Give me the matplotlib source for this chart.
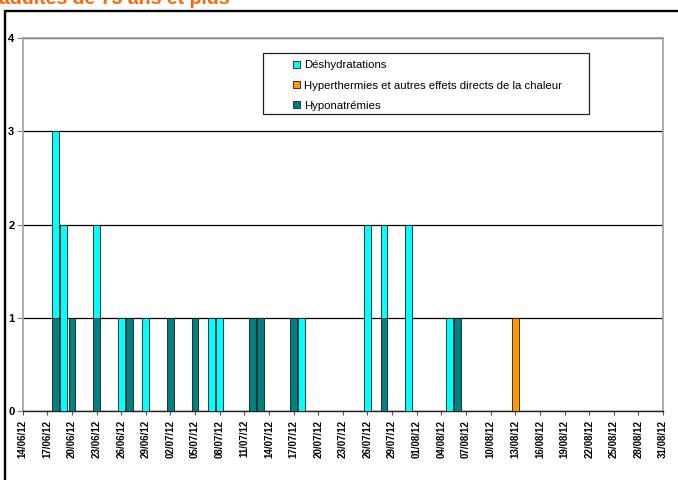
import numpy as np
import matplotlib
matplotlib.use("Agg")
import matplotlib.pyplot as plt
from matplotlib.patches import Rectangle, Patch

# data (daily counts, stacked: hyponatremies at the bottom)
start_date = np.datetime64("2012-06-14")
end_date = np.datetime64("2012-08-31")

hypo_dates = ["2012-06-18", "2012-06-20", "2012-06-23", "2012-06-27", "2012-07-02",
              "2012-07-05", "2012-07-12", "2012-07-13", "2012-07-17", "2012-07-28",
              "2012-08-06"]
hypo_vals = [1, 1, 1, 1, 1, 1, 1, 1, 1, 1, 1]

deshy_dates = ["2012-06-18", "2012-06-19", "2012-06-23", "2012-06-26", "2012-06-29",
               "2012-07-07", "2012-07-08", "2012-07-18", "2012-07-26", "2012-07-28",
               "2012-07-31", "2012-08-05"]
deshy_vals = [2, 2, 1, 1, 1, 1, 1, 1, 2, 1, 2, 1]

hyper_dates = ["2012-08-13"]
hyper_vals = [1]

series_names = ["Déshydratations",
                "Hyperthermies et autres effets directs de la chaleur",
                "Hyponatrémies"]
colors = ["#00FFFF", "#FF9900", "#008080"]

title = "adultes de 75 ans et plus"

narrow = ["Liberation Sans Narrow", "Liberation Sans", "DejaVu Sans"]


def day_index(dates):
    return np.array([(np.datetime64(d) - start_date).astype(int) for d in dates])


ndays = int((end_date - start_date).astype(int)) + 1
hypo_full = np.zeros(ndays)
hypo_full[day_index(hypo_dates)] = hypo_vals

x_hypo = day_index(hypo_dates)
x_deshy = day_index(deshy_dates)
x_hyper = day_index(hyper_dates)

W, H = 678, 480
fig = plt.figure(figsize=(6.78, 4.8), dpi=100)
ax = fig.add_axes([0.0335, 0.1431, 0.9444, 0.7777])

w = 0.82
ax.bar(x_hypo, hypo_vals, width=w, color=colors[2], edgecolor="#1a1a1a",
       linewidth=0.6, zorder=3)
ax.bar(x_deshy, deshy_vals, width=w, bottom=hypo_full[x_deshy], color=colors[0],
       edgecolor="#1a1a1a", linewidth=0.6, zorder=3)
ax.bar(x_hyper, hyper_vals, width=w, bottom=hypo_full[x_hyper], color=colors[1],
       edgecolor="#1a1a1a", linewidth=0.6, zorder=3)

ax.set_xlim(0, ndays - 1)
ax.set_ylim(0, 4)
ax.set_yticks([0, 1, 2, 3, 4])
ax.set_yticklabels(["0", "1", "2", "3", "4"], fontsize=8, fontweight="bold",
                   family=narrow)
ax.yaxis.grid(True, color="black", linewidth=0.9, zorder=1)

tick_days = np.arange(0, ndays, 3)
tick_dates = start_date + tick_days
ax.set_xticks(tick_days)
ax.set_xticklabels([str(d)[8:10] + "/" + str(d)[5:7] + "/" + str(d)[2:4] for d in tick_dates],
                   rotation=90, fontsize=7, fontweight="bold", family=narrow)

ax.tick_params(axis="x", length=3, color="#555555", pad=3)
ax.tick_params(axis="y", length=4, color="#808080", pad=2)
for side in ["top", "right", "left"]:
    ax.spines[side].set_color("#a0a0a0")
    ax.spines[side].set_linewidth(1.2)
ax.spines["bottom"].set_color("#222222")
ax.spines["bottom"].set_linewidth(1.0)

# legend: entries without frame, box drawn separately (large left indent in the original)
handles = [Patch(facecolor=c, edgecolor="#1a1a1a", linewidth=0.6) for c in colors]
leg = fig.legend(handles, series_names, loc="upper left",
                 bbox_to_anchor=(293 / W, 1 - 60.5 / H),
                 prop={"family": narrow, "size": 8.2}, frameon=False,
                 handlelength=0.6, handleheight=0.6, handletextpad=0.35,
                 labelspacing=0.88, borderpad=0, borderaxespad=0)
leg._legend_box.align = "left"
fig.patches.append(Rectangle((262.7 / W, 1 - 114 / H), (589 - 262.7) / W, (114 - 53.3) / H,
                             transform=fig.transFigure, facecolor="white",
                             edgecolor="#222222", linewidth=0.9, zorder=4))
leg.set_zorder(5)

# outer frame of the original page
fig.patches.append(Rectangle((5.3 / W, -0.1), 1.2, 1 - 10.5 / H + 0.1,
                             transform=fig.transFigure, fill=False,
                             edgecolor="black", linewidth=1.7))

fig.text(-1 / W, 1 - 4.3 / H, title, color="#FF6600", fontsize=14,
         fontweight="bold", family=["Liberation Sans", "DejaVu Sans"],
         ha="left", va="baseline")

fig.savefig("out.png", dpi=100)
